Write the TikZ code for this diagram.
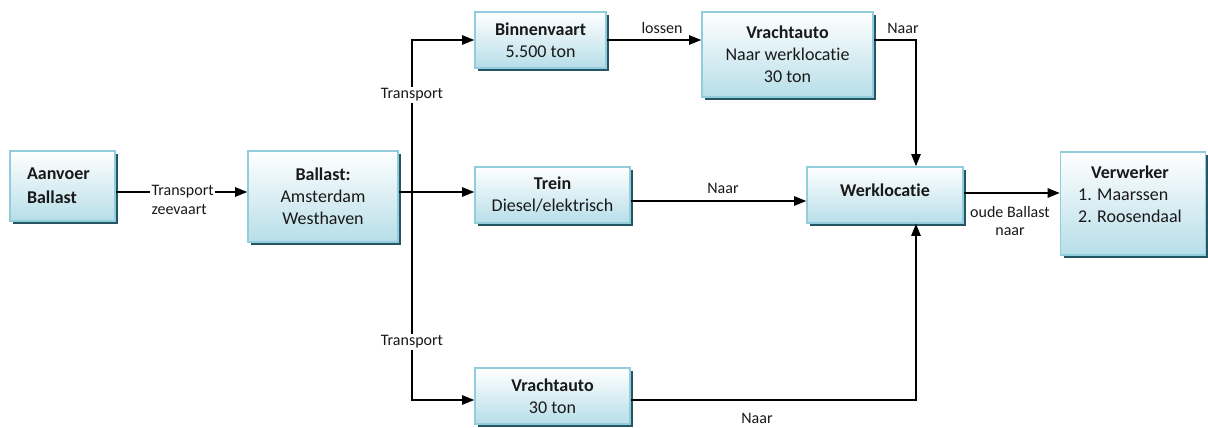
\documentclass[tikz,border=0pt]{standalone}
\usepackage{fontspec}
\setmainfont{Carlito}[Ligatures=NoCommon]
\usetikzlibrary{arrows.meta,shadows}

\definecolor{boxborder}{RGB}{146,205,221}
\definecolor{boxbottom}{RGB}{183,222,232}
\definecolor{boxshadow}{RGB}{38,86,100}
\definecolor{boxtext}{RGB}{25,25,25}

\tikzset{
  stagetext/.style={align=center, inner sep=0pt, text=boxtext, font=\fontsize{13.5}{16.5}\selectfont},
  stage/.style={stagetext, draw=boxborder, line width=1.2pt, top color=white, bottom color=boxbottom,
    drop shadow={shadow xshift=2.5pt, shadow yshift=-2.5pt, fill=boxshadow, opacity=1}},
  flow/.style={line width=1.1pt, -{Triangle[length=9pt,width=7pt]}},
  plain/.style={line width=1.1pt},
  lbl/.style={font=\fontsize{12}{14}\selectfont, inner sep=1pt, text=boxtext}
}

\begin{document}
\begin{tikzpicture}[x=0.75pt,y=0.75pt,yscale=-1,xscale=1]
\useasboundingbox (0,0) rectangle (1208,428);

%Shape: Boxes
\node[stage, align=left, text width=53.25pt, inner xsep=12.75pt, font=\fontsize{13.5}{18}\selectfont, minimum height=52.5pt] (aanvoer) at (62.5,186) {\textbf{Aanvoer}\\\textbf{Ballast}};
\node[stage, minimum width=112.5pt, minimum height=68.25pt] (ballast) at (323,196.5) {\textbf{Ballast:}\\Amsterdam\\Westhaven};
\node[stage, minimum width=98.25pt, minimum height=42pt] (binnen) at (540.5,40) {\textbf{Binnenvaart}\\5.500 ton};
\node[stage, minimum width=128.25pt, minimum height=63.75pt] (trucka) at (787.5,54.5) {\textbf{Vrachtauto}\\Naar werklocatie\\30 ton};
\node[stage, minimum width=116.25pt, minimum height=42pt] (trein) at (552.5,195) {\textbf{Trein}\\Diesel/elektrisch};
\node[stage, minimum width=117pt, minimum height=42pt] (werk) at (885,195) {};
\node[stage, minimum width=108.75pt, minimum height=77.25pt] (verw) at (1133,203.5) {};
\node[stage, minimum width=116.25pt, minimum height=42pt] (truckb) at (552.5,396) {\textbf{Vrachtauto}\\30 ton};

% Text Node
\node[stagetext] (werktxt) at (885,190) {\textbf{Werklocatie}};
\node[stagetext] (verwtxt) at (1130,194) {\textbf{Verwerker}\\\rlap{1. Maarssen}\phantom{2. Roosendaal}\\2. Roosendaal};

%Straight Lines
\coordinate (toprow) at (0,192);
\coordinate (split) at (412,192);
\coordinate (drop) at (916,40);
\draw[flow] (aanvoer.east |- toprow) -- (ballast.west |- toprow);
\draw[plain] (ballast.east |- split) -- (split);
\draw[flow] (split) |- (binnen.west);
\draw[flow] (split) -- (trein.west |- split);
\draw[flow] (split) |- ([yshift=3pt]truckb.west);
\draw[flow] (binnen.east) -- (trucka.west |- binnen.east);
\draw[flow] (trucka.east |- drop) -| (werk.north -| drop);
\draw[flow] ([yshift=4.5pt]trein.east) -- ([yshift=4.5pt]werk.west);
\draw[flow] ([yshift=3pt]truckb.east) -| (werk.south -| drop);
\draw[flow] ([yshift=-1.5pt]werk.east) -- ([yshift=-1.5pt]werk.east -| verw.west);

% Text Node
\node[lbl, fill=white, align=left, anchor=west] (zee) at (150,200) {Transport\\zeevaart};
\node[lbl, fill=white] (tpup) at (412,95) {Transport};
\node[lbl, fill=white] (tpdown) at (412,342) {Transport};
\node[lbl] (lossen) at (662,28) {lossen};
\node[lbl] (naara) at (903,28) {Naar};
\node[lbl] (naarb) at (723,188) {Naar};
\node[lbl] (naarc) at (757,418) {Naar};
\node[lbl, align=center] (oude) at (1010,221) {oude Ballast\\naar};

\end{tikzpicture}
\end{document}
